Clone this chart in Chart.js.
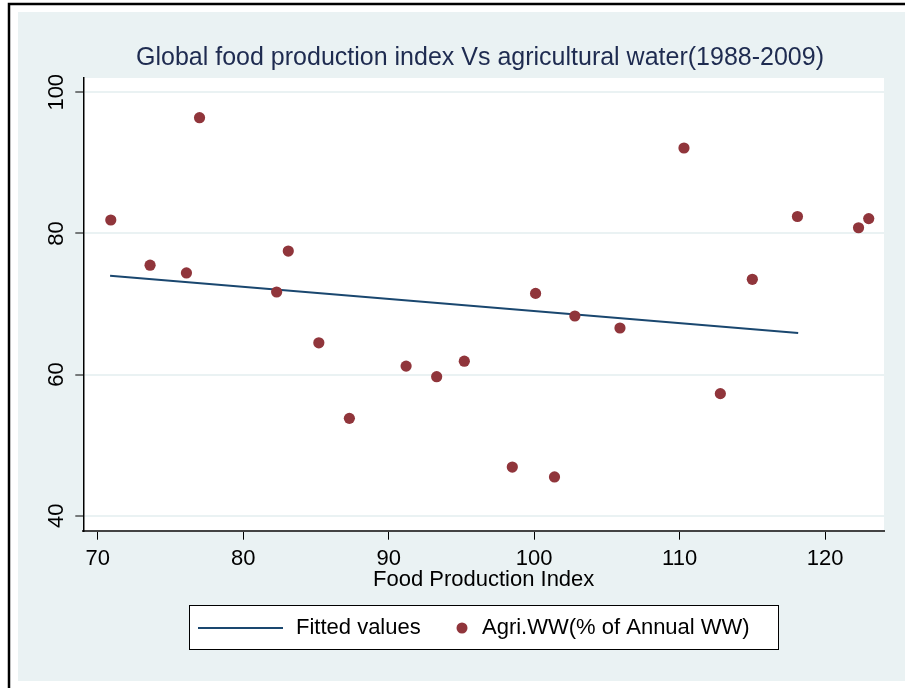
<!DOCTYPE html>
<html>
<head>
<meta charset="utf-8">
<script src="https://cdn.jsdelivr.net/npm/chart.js@4.4.0/dist/chart.umd.min.js"></script>
<style>
  html, body { margin: 0; padding: 0; background: #fff; }
  #wrap { width: 905px; height: 688px; }
</style>
</head>
<body>
<div id="wrap"><canvas id="scatterChart" width="905" height="688"></canvas></div>
<script>
// food production index (x) and agri. water withdrawal % (y), 1988-2009
const foodIndex = [70.9, 73.6, 76.1, 77.0, 83.1, 82.3, 85.2, 87.3, 91.2, 93.3, 95.2,
                   98.5, 101.4, 100.1, 102.8, 105.9, 110.3, 112.8, 115.0, 118.1, 122.3, 123.0];
const agriWW = [81.9, 75.5, 74.4, 96.4, 77.5, 71.7, 64.5, 53.8, 61.2, 59.7, 61.9,
                46.9, 45.5, 71.5, 68.3, 66.6, 92.1, 57.3, 73.5, 82.4, 80.8, 82.1];
// fitted line end points
const fitX = [70.85, 118.15];
const fitY = [74.0, 65.9];

const xTicks = [70, 80, 90, 100, 110, 120];
const yTicks = [40, 60, 80, 100];

const chartTitle = 'Global food production index Vs agricultural water(1988-2009)';
const xTitle = 'Food Production Index';
const fitLabel = 'Fitted values';
const dotLabel = 'Agri.WW(% of Annual WW)';

const lineColor = '#1a476f';
const dotColor = '#90353b';
const bgColor = '#eaf2f3';
const fontFamily = "'Liberation Sans', Arial, Helvetica, sans-serif";

const framePlugin = {
  id: 'framePlugin',
  beforeDraw(chart) {
    const ctx = chart.ctx;
    const a = chart.chartArea;
    ctx.save();
    ctx.fillStyle = '#fff';
    ctx.fillRect(0, 0, chart.width, chart.height);
    ctx.fillStyle = bgColor;
    ctx.fillRect(18, 12, chart.width - 18, 669);
    ctx.strokeStyle = '#000';
    ctx.lineWidth = 2.5;
    ctx.beginPath();
    ctx.moveTo(9, chart.height);
    ctx.lineTo(9, 4);
    ctx.lineTo(chart.width, 4);
    ctx.stroke();
    ctx.fillStyle = '#fff';
    ctx.fillRect(a.left, a.top, a.right - a.left, a.bottom - a.top);
    ctx.restore();
  },
  afterDraw(chart) {
    const ctx = chart.ctx;
    const a = chart.chartArea;
    const yScale = chart.scales.y;
    ctx.save();
    // title
    ctx.fillStyle = '#1e2b50';
    ctx.font = '25px ' + fontFamily;
    ctx.textAlign = 'center';
    ctx.textBaseline = 'middle';
    ctx.fillText(chartTitle, 480, 58);

    // rotated y tick labels
    ctx.fillStyle = '#000';
    ctx.font = '22px ' + fontFamily;
    yTicks.forEach(v => {
      const py = yScale.getPixelForValue(v);
      ctx.save();
      ctx.translate(57, py);
      ctx.rotate(-Math.PI / 2);
      ctx.textAlign = 'center';
      ctx.textBaseline = 'middle';
      ctx.fillText(String(v), 0, 0);
      ctx.restore();
    });

    // x axis title
    ctx.textAlign = 'center';
    ctx.textBaseline = 'middle';
    ctx.fillText(xTitle, (a.left + a.right) / 2, 580);

    // legend box
    ctx.fillStyle = '#fff';
    ctx.fillRect(189, 605, 589, 44);
    ctx.strokeStyle = '#000';
    ctx.lineWidth = 1;
    ctx.strokeRect(189.5, 605.5, 589, 44);
    ctx.strokeStyle = lineColor;
    ctx.lineWidth = 2;
    ctx.beginPath();
    ctx.moveTo(198, 628);
    ctx.lineTo(283, 628);
    ctx.stroke();
    ctx.fillStyle = dotColor;
    ctx.beginPath();
    ctx.arc(462, 628, 5.5, 0, Math.PI * 2);
    ctx.fill();
    ctx.fillStyle = '#000';
    ctx.textAlign = 'left';
    ctx.fillText(fitLabel, 296, 628);
    ctx.fillText(dotLabel, 482, 628);
    ctx.restore();
  }
};

const ctx = document.getElementById('scatterChart');

new Chart(ctx, {
  type: 'scatter',
  data: {
    datasets: [
      {
        type: 'line',
        label: fitLabel,
        data: fitX.map((x, i) => ({ x: x, y: fitY[i] })),
        borderColor: lineColor,
        borderWidth: 2,
        pointRadius: 0,
        fill: false,
        order: 2
      },
      {
        label: dotLabel,
        data: foodIndex.map((x, i) => ({ x: x, y: agriWW[i] })),
        backgroundColor: dotColor,
        borderWidth: 0,
        pointRadius: 5.6,
        order: 1
      }
    ]
  },
  options: {
    responsive: false,
    animation: false,
    layout: {
      padding: { left: 23.3, right: 21, top: 78, bottom: 0 }
    },
    scales: {
      x: {
        type: 'linear',
        min: 69.01,
        max: 124.05,
        afterBuildTicks: s => { s.ticks = xTicks.map(v => ({ value: v })); },
        afterFit: s => { s.height = 157.3; },
        border: { color: '#444', width: 2 },
        grid: { drawOnChartArea: false, tickColor: '#000', tickLength: 9, tickWidth: 1 },
        ticks: {
          color: '#000',
          padding: 6,
          font: { family: fontFamily, size: 22 },
          callback: v => v
        }
      },
      y: {
        type: 'linear',
        min: 37.88,
        max: 102.02,
        afterBuildTicks: s => { s.ticks = yTicks.map(v => ({ value: v })); },
        afterFit: s => { s.width = 60; },
        border: { color: '#000', width: 1.5 },
        grid: { color: bgColor, lineWidth: 2, tickColor: '#000', tickLength: 8, tickWidth: 1 },
        ticks: { display: false }
      }
    },
    plugins: {
      legend: { display: false },
      title: { display: false },
      tooltip: { enabled: false }
    }
  },
  plugins: [framePlugin]
});
</script>
</body>
</html>
